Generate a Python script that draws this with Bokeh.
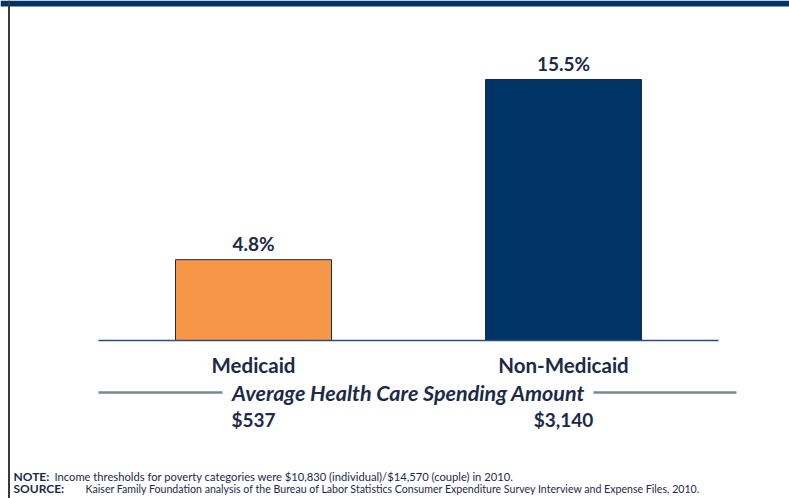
from bokeh.plotting import figure
from bokeh.models import Range1d, Span, BoxAnnotation, ColumnDataSource
from bokeh.core.properties import value
from bokeh.embed import file_html
from bokeh.resources import INLINE

# ---- data ----
categories = ["Medicaid", "Non-Medicaid"]
shares = [4.8, 15.5]
share_labels = ["4.8%", "15.5%"]
spending = ["$537", "$3,140"]
bar_colors = ["#F79646", "#003366"]
subtitle = "Average Health Care Spending Amount"
note_head = "NOTE:"
note_text = "Income thresholds for poverty categories were $10,830 (individual)/$14,570 (couple) in 2010."
source_head = "SOURCE:"
source_text = ("Kaiser Family Foundation analysis of the Bureau of Labor Statistics Consumer "
               "Expenditure Survey Interview and Expense Files, 2010.")

# ---- layout ----
FONT = "Lato"
TXT = "#1C2A48"
NAVY = "#003366"
W, H = 789, 498
ORIGIN = 0               # the figure is drawn from the page's top-left corner
CAT0_PX = 253.0          # screen x of first category centre
CAT_STEP_PX = 310.0      # screen px between categories
BASE_PX = 340.0          # screen y of the baseline
PX_PER_PCT = 261.0 / 15.5


def dx(px):
    return (px - CAT0_PX) / CAT_STEP_PX


def dy(py):
    return (BASE_PX - py) / PX_PER_PCT


p = figure(width=W, height=H,
           x_range=Range1d(dx(ORIGIN), dx(ORIGIN + W)),
           y_range=Range1d(dy(ORIGIN + H), dy(ORIGIN)),
           output_backend="svg", toolbar_location=None,
           x_axis_location=None, y_axis_location=None,
           min_border=0, outline_line_color=None,
           background_fill_color="white", border_fill_color="white")
p.grid.visible = False

idx = list(range(len(categories)))
src = ColumnDataSource(dict(
    x=idx, top=shares, color=bar_colors, label=share_labels,
    cat=categories, spend=spending,
    label_y=[s + 16 / PX_PER_PCT for s in shares],
))

# top band and left border
p.add_layout(BoxAnnotation(top=dy(ORIGIN), bottom=dy(6), fill_color=NAVY,
                           fill_alpha=1, line_color=None))
p.add_layout(Span(location=dx(8.5), dimension="height", line_color="#3A3A3A", line_width=2))

# bars
p.vbar(x="x", top="top", bottom=0, width=156 / CAT_STEP_PX, fill_color="color",
       line_color="#1B2A47", line_width=1, source=src)

# baseline
p.segment(x0=idx[0] - 0.5, y0=0, x1=idx[-1] + 0.5, y1=0, line_color="#2E4D7B", line_width=1.5)

common = dict(text_font=value(FONT), text_color=TXT, text_align="center", text_baseline="middle")

# value labels
p.text(x="x", y="label_y", text="label", text_font_size="19px", text_font_style="bold",
       source=src, **common)

# category labels
p.text(x="x", y=dy(364), text="cat", text_font_size="20.5px", text_font_style="bold",
       source=src, **common)

# subtitle with rules
mid = (idx[0] + idx[-1]) / 2
p.text(x=[mid], y=[dy(392)], text=[subtitle], text_font_size="21.5px",
       text_font_style="bold italic", **common)
p.segment(x0=[dx(98), dx(593)], y0=[dy(392)] * 2, x1=[dx(222), dx(736)], y1=[dy(392)] * 2,
          line_color="#7A8794", line_width=2.5)

# spending amounts
p.text(x="x", y=dy(419), text="spend", text_font_size="19px", text_font_style="bold",
       source=src, **common)

# notes
ncommon = dict(text_font=value(FONT), text_color=TXT, text_align="left",
               text_baseline="middle")
p.text(x=[dx(13)], y=[dy(476)], text=[note_head], text_font_style="bold",
       text_font_size="12px", **ncommon)
p.text(x=[dx(54)], y=[dy(476)], text=[note_text], text_font_size="11.2px", **ncommon)
p.text(x=[dx(13)], y=[dy(488)], text=[source_head], text_font_style="bold",
       text_font_size="12px", **ncommon)
p.text(x=[dx(85)], y=[dy(488)], text=[source_text], text_font_size="10.6px", **ncommon)

open("out.html", "w").write(file_html(p, INLINE))
